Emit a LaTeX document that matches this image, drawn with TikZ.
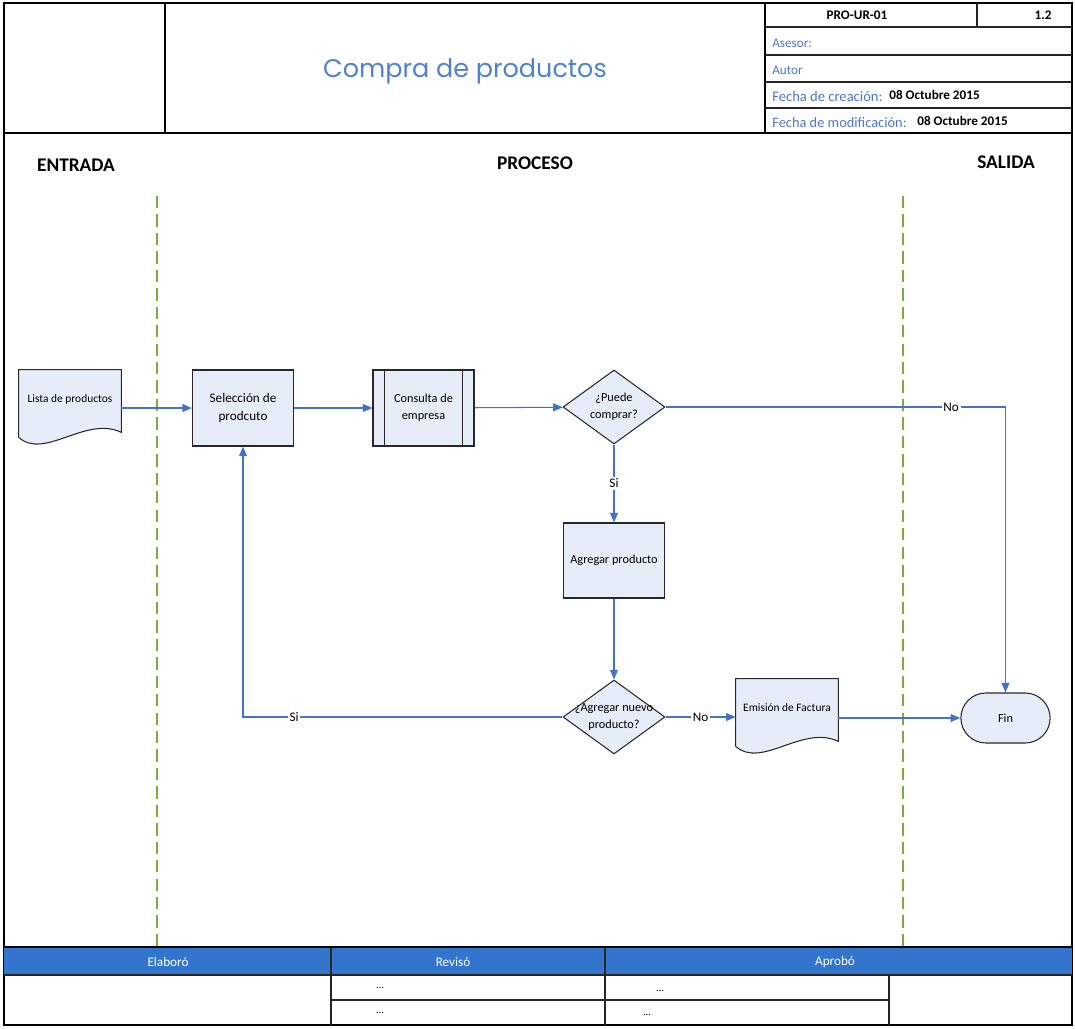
\documentclass[tikz,border=0pt]{standalone}
\usepackage{fontspec}
\setmainfont{Carlito}
\newfontfamily\titlefont{Poppins}
\usetikzlibrary{
  shapes.geometric,
  shapes.misc,
  arrows.meta,
  positioning,
  backgrounds,
  calc
}
\definecolor{flowblue}{RGB}{68,114,196}
\definecolor{boxfill}{RGB}{231,237,248}
\definecolor{boxborder}{RGB}{40,40,40}
\definecolor{lanegreen}{RGB}{128,170,60}
\definecolor{titleblue}{RGB}{79,129,204}
\definecolor{keyblue}{RGB}{78,118,196}
\definecolor{headblue}{RGB}{51,117,204}
\newcommand{\flowfont}{\fontsize{7}{9.5}\selectfont}
\newcommand{\smallflowfont}{\fontsize{6.5}{8}\selectfont}
\newcommand{\docoutline}[1]{%
  \begin{pgfonlayer}{background}
  \draw[draw=boxborder, fill=boxfill, line width=0.6pt]
    (#1.north west) -- (#1.north east) -- ($(#1.south east)+(0,4)$)
    .. controls ($(#1.south east)+(-36,-13)$) and ($(#1.south west)+(26,32)$)
    .. ($(#1.south west)+(0,9)$) -- cycle;
  \end{pgfonlayer}}
\tikzset{
  procbox/.style={
    draw=boxborder, fill=boxfill, line width=0.6pt,
    minimum width=2.02cm, minimum height=1.52cm,
    align=center, font=\flowfont
  },
  docbox/.style={
    minimum width=2.04cm, minimum height=1.16cm,
    inner sep=0pt, align=center, font=\smallflowfont
  },
  decbox/.style={
    diamond, aspect=1.38, draw=boxborder, fill=boxfill, line width=0.6pt,
    minimum width=2.04cm, minimum height=1.48cm,
    inner sep=0pt, align=center, font=\flowfont
  },
  endbox/.style={
    rounded rectangle, draw=boxborder, fill=boxfill, line width=0.6pt,
    minimum width=2.02cm, minimum height=1.0cm, font=\flowfont
  },
  flowarrow/.style={
    -{Triangle[length=5.5pt,width=4.5pt]},
    draw=flowblue, line width=0.6pt
  },
  flowlabel/.style={
    font=\fontsize{7.5}{9}\selectfont, fill=white, inner sep=1pt
  },
  lanetitle/.style={
    font=\fontsize{11}{13}\selectfont\bfseries
  },
  laneline/.style={
    draw=lanegreen, line width=1.1pt, dash pattern=on 7pt off 3.5pt
  },
  frameline/.style={draw=black, line width=1.4pt},
  cellline/.style={draw=black!85, line width=0.8pt},
  cellkey/.style={
    anchor=west, inner sep=0pt, text=keyblue,
    font=\fontsize{7.5}{9}\selectfont
  },
  cellval/.style={
    inner sep=0pt, font=\fontsize{7.5}{9}\selectfont\bfseries
  },
  foothead/.style={
    text=white, font=\fontsize{7.5}{9}\selectfont
  },
}

\begin{document}
\begin{tikzpicture}[x=0.02cm, y=-0.02cm]

  \useasboundingbox (0,0) rectangle (1075,1028);

  %% Header block
  \draw[frameline] (4,3) rectangle (1072,1025);
  \draw[frameline] (4,133) -- (1072,133);
  \draw[frameline] (165,3) -- (165,133);
  \draw[frameline] (765,3) -- (765,133);
  \draw[cellline] (765,27) -- (1072,27);
  \draw[cellline] (765,55) -- (1072,55);
  \draw[cellline] (765,82) -- (1072,82);
  \draw[cellline] (765,108) -- (1072,108);
  \draw[cellline] (977,3) -- (977,27);

  \node[text=titleblue, font=\titlefont\fontsize{14.5}{17}\selectfont]
    (title) at (465,71) {Compra de productos};
  \node[cellval] (code) at (857,15) {PRO-UR-01};
  \node[cellval] (version) at (1043,15) {1.2};
  \node[cellkey] (asesor) at (772,43) {Asesor:};
  \node[cellkey] (autor) at (772,70) {Autor};
  \node[cellkey, font=\fontsize{8.3}{10}\selectfont] (creacion) at (772,96)
    {Fecha de creación:};
  \node[cellval, anchor=west] (creacionval) at (889,95) {08 Octubre 2015};
  \node[cellkey, font=\fontsize{8.2}{10}\selectfont] (modif) at (772,123)
    {Fecha de modificación:};
  \node[cellval, anchor=west] (modifval) at (917,121) {08 Octubre 2015};

  %% Lanes
  \node[lanetitle] (entrada) at (76,165) {ENTRADA};
  \node[lanetitle] (proceso) at (535,163) {PROCESO};
  \node[lanetitle] (salida) at (1006,162) {SALIDA};
  \draw[laneline] (157,196) -- (157,947);
  \draw[laneline] (903,196) -- (903,947);

  %% Flow nodes
  \node[docbox] (lista) at (70,399) {Lista de productos};
  \docoutline{lista}
  \node[procbox, font=\fontsize{7.5}{10}\selectfont] (selec) at (243,408)
    {Selección de\\prodcuto};
  \node[procbox] (consulta) at (423.5,408) {Consulta de\\empresa};
  \draw[draw=boxborder, line width=0.6pt]
    ($(consulta.north west)+(12,0)$) -- ($(consulta.south west)+(12,0)$)
    ($(consulta.north east)+(-12,0)$) -- ($(consulta.south east)+(-12,0)$);
  \node[decbox] (puede) at (614,407) {¿Puede\\comprar?};
  \node[procbox, minimum height=1.5cm] (agregar) at (614,560.5) {Agregar producto};
  \node[decbox, inner xsep=-3.8pt] (nuevo) at (614,717) {¿Agregar nuevo\\producto?};
  \node[docbox] (emision) at (787,708) {Emisión de Factura};
  \docoutline{emision}
  \node[endbox] (fin) at (1005.5,718) {Fin};

  %% Connectors
  \draw[flowarrow] (selec.west -| lista.east) -- (selec.west);
  \draw[flowarrow] (selec) -- (consulta);
  \draw[flowarrow] (consulta) -- (puede);
  \draw[flowarrow] (puede.east) -| (fin.north)
    node[flowlabel, pos=0.42] {No};
  \draw[flowarrow] (puede.south) -- (agregar.north)
    node[flowlabel, midway] {Si};
  \draw[flowarrow] (agregar) -- (nuevo);
  \draw[flowarrow] (nuevo.west) -| (selec.south)
    node[flowlabel, pos=0.42] {Si};
  \draw[flowarrow] (nuevo.east) -- (emision.west |- nuevo.east)
    node[flowlabel, midway] {No};
  \draw[flowarrow] (fin.west -| emision.east) -- (fin.west);

  %% Footer table
  \fill[headblue] (4,948) rectangle (1072,975);
  \draw[frameline] (4,947) -- (1072,947);
  \draw[cellline] (4,975) -- (1072,975);
  \draw[cellline] (331,948) -- (331,1025);
  \draw[cellline] (605,948) -- (605,1025);
  \draw[cellline] (889,975) -- (889,1025);
  \draw[cellline] (331,1000) -- (889,1000);
  \node[foothead] (elaboro) at (168,962) {Elaboró};
  \node[foothead] (reviso) at (453,962) {Revisó};
  \node[foothead] (aprobo) at (835,962) {Aprobó};
  \node[font=\fontsize{6}{7}\selectfont] (rev1) at (380,988) {...};
  \node[font=\fontsize{6}{7}\selectfont] (rev2) at (380,1013) {...};
  \node[font=\fontsize{6}{7}\selectfont] (apr1) at (660,991) {...};
  \node[font=\fontsize{6}{7}\selectfont] (apr2) at (647,1015) {...};

\end{tikzpicture}
\end{document}
